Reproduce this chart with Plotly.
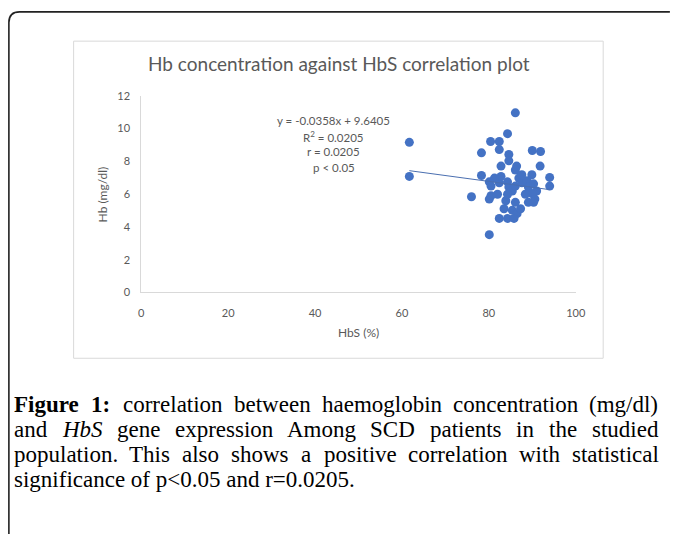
import plotly.graph_objects as go

# ---------------- data ----------------
hbs = [61.7, 61.7, 86.1, 84.3, 80.4, 82.4, 82.4, 78.3, 84.6, 90.0,
       91.9, 84.6, 82.8, 86.4, 91.8, 78.3, 86.1, 89.9, 94.0, 94.0,
       76.0, 80.1, 80.1, 80.5, 80.1, 80.5, 82.4, 82.8, 84.3, 84.6,
       85.4, 86.1, 86.9, 87.6, 88.8, 89.1, 90.3, 91.0, 89.9, 90.6,
       89.1, 90.3, 86.1, 83.9, 82.0, 83.5, 85.4, 86.5, 84.3, 82.4,
       85.8, 87.3, 84.3, 88.4, 81.3, 87.6]
hb = [9.16, 7.08, 10.96, 9.69, 9.21, 9.21, 8.72, 8.52, 8.42, 8.66,
      8.60, 8.03, 7.71, 7.71, 7.71, 7.14, 7.47, 7.18, 7.02, 6.49,
      5.84, 3.53, 6.75, 6.49, 5.70, 5.90, 6.69, 7.08, 6.75, 6.43,
      6.19, 6.49, 6.98, 6.69, 6.82, 6.43, 6.63, 6.19, 6.04, 5.70,
      5.50, 5.50, 5.50, 5.60, 5.99, 5.11, 5.01, 4.81, 4.52, 4.52,
      4.52, 5.11, 5.99, 5.99, 6.98, 7.18]

x_ticks = [0, 20, 40, 60, 80, 100]
y_ticks = [0, 2, 4, 6, 8, 10, 12]

slope = -0.0358
intercept = 9.6405

chart_title = "Hb concentration against HbS correlation plot"
x_title = "HbS (%)"
y_title = "Hb (mg/dl)"
eq_lines = ["y = -0.0358x + 9.6405", "R<sup>2</sup> = 0.0205", "r = 0.0205", "p < 0.05"]

caption_line1 = [("Figure", "b"), ("1:", "b"), ("correlation", "r"), ("between", "r"),
                 ("haemoglobin", "r"), ("concentration", "r"), ("(mg/dl)", "r")]
caption_line2 = [("and", "r"), ("HbS", "i"), ("gene", "r"), ("expression", "r"), ("Among", "r"),
                 ("SCD", "r"), ("patients", "r"), ("in", "r"), ("the", "r"), ("studied", "r")]
caption_line3 = [("population.", "r"), ("This", "r"), ("also", "r"), ("shows", "r"), ("a", "r"),
                 ("positive", "r"), ("correlation", "r"), ("with", "r"), ("statistical", "r")]
caption_line4 = "significance of p<0.05 and r=0.0205."

# ---------------- helpers ----------------
W, H = 674, 535


def px(x):
    return x / W


def py(y):
    return 1 - y / H


GREY = "#595959"
BLUE = "#4472C4"
SANS = "Lato"
SERIF = "Liberation Serif"

# approximate Times metrics (units / 1000 em) for justification
_reg = {'a': 444, 'b': 500, 'c': 444, 'd': 500, 'e': 444, 'f': 333, 'g': 500, 'h': 500,
        'i': 278, 'j': 278, 'k': 500, 'l': 278, 'm': 778, 'n': 500, 'o': 500, 'p': 500,
        'q': 500, 'r': 333, 's': 389, 't': 278, 'u': 500, 'v': 500, 'w': 722, 'x': 500,
        'y': 500, 'z': 444, 'A': 722, 'C': 667, 'D': 722, 'S': 556, 'T': 611, 'H': 722,
        '(': 333, ')': 333, '/': 278, '.': 250, ':': 278, '<': 564, '=': 564, ' ': 250}
for d in "0123456789":
    _reg[d] = 500
_bold = dict(_reg)
_bold.update({'F': 611, 'u': 556, 'r': 444, ':': 333})
_ital = dict(_reg)
_ital.update({'S': 500})


def word_width(w, style, fs):
    tbl = {"r": _reg, "b": _bold, "i": _ital}[style]
    return sum(tbl.get(c, 500) for c in w) * fs / 1000.0


CAP_FS = 23
CAP_LEFT, CAP_RIGHT = 10, 666

fig = go.Figure()

fig.add_trace(go.Scatter(
    x=hbs, y=hb, mode="markers",
    marker=dict(color=BLUE, size=9, line=dict(width=0)),
    hoverinfo="skip", showlegend=False))

trend_x = [min(hbs), max(hbs)]
trend_y = [slope * v + intercept for v in trend_x]
fig.add_trace(go.Scatter(
    x=trend_x, y=trend_y, mode="lines",
    line=dict(color="#4a6fb0", width=1), hoverinfo="skip", showlegend=False))

annotations = []
# chart title
annotations.append(dict(x=px(343), y=py(58), xref="paper", yref="paper", text=chart_title,
                        showarrow=False, xanchor="center", yanchor="middle",
                        font=dict(family=SANS, size=19, color=GREY)))
# axis titles
annotations.append(dict(x=px(362), y=py(334), xref="paper", yref="paper", text=x_title,
                        showarrow=False, xanchor="center", yanchor="middle",
                        font=dict(family=SANS, size=12, color=GREY)))
annotations.append(dict(x=px(101), y=py(192), xref="paper", yref="paper", text=y_title,
                        showarrow=False, xanchor="center", yanchor="middle", textangle=-90,
                        font=dict(family=SANS, size=12, color=GREY)))
# regression equation
for i, t in enumerate(eq_lines):
    annotations.append(dict(x=px(337), y=py(116 + i * 16.3), xref="paper", yref="paper", text=t,
                            showarrow=False, xanchor="center", yanchor="middle",
                            font=dict(family=SANS, size=11.5, color=GREY)))

# caption (justified)
baselines = [414, 440, 466, 491]
for li, words in enumerate([caption_line1, caption_line2, caption_line3]):
    widths = [word_width(w, s, CAP_FS) for w, s in words]
    gap = (CAP_RIGHT - CAP_LEFT - sum(widths)) / (len(words) - 1)
    xcur = CAP_LEFT
    for (w, s), wd in zip(words, widths):
        txt = w if s == "r" else ("<b>%s</b>" % w if s == "b" else "<i>%s</i>" % w)
        annotations.append(dict(x=px(xcur), y=py(baselines[li] - 7), xref="paper", yref="paper",
                                text=txt, showarrow=False, xanchor="left", yanchor="middle",
                                borderpad=0,
                                font=dict(family=SERIF, size=CAP_FS, color="#000000")))
        xcur += wd + gap
annotations.append(dict(x=px(CAP_LEFT), y=py(baselines[3] - 7), xref="paper", yref="paper",
                        text=caption_line4, showarrow=False, xanchor="left", yanchor="middle",
                        borderpad=0, font=dict(family=SERIF, size=CAP_FS, color="#000000")))

shapes = [
    # chart frame
    dict(type="rect", xref="paper", yref="paper", x0=px(72), x1=px(612), y0=py(360), y1=py(35),
         line=dict(color="#d9d9d9", width=1), fillcolor="rgba(0,0,0,0)", layer="below"),
    # outer figure border (left + top with rounded corner)
    dict(type="path", xref="paper", yref="paper",
         path="M %f,%f L %f,%f Q %f,%f %f,%f L %f,%f" % (
             px(6), py(540), px(6), py(16), px(6), py(5), px(17), py(5), px(680), py(5)),
         line=dict(color="#222222", width=1.6)),
]

fig.update_layout(
    width=W, height=H,
    margin=dict(l=0, r=0, t=0, b=0),
    paper_bgcolor="white", plot_bgcolor="white",
    showlegend=False,
    annotations=annotations,
    shapes=shapes,
    xaxis=dict(domain=[px(141), px(584)], range=[0, 100], tickvals=x_ticks,
               showline=True, linecolor="#d9d9d9", linewidth=1, showgrid=False, zeroline=False,
               ticks="", ticklabelstandoff=10,
               tickfont=dict(family=SANS, size=11, color=GREY), fixedrange=True),
    yaxis=dict(domain=[py(292.6), py(91)], range=[0, 12], tickvals=y_ticks,
               showline=True, linecolor="#d9d9d9", linewidth=1, showgrid=False, zeroline=False,
               ticks="", ticklabelstandoff=8,
               tickfont=dict(family=SANS, size=11, color=GREY), fixedrange=True),
)

fig.write_html("out.html", config={"displayModeBar": False},
               post_script="document.body.style.margin='0';document.body.style.overflow='hidden';")
